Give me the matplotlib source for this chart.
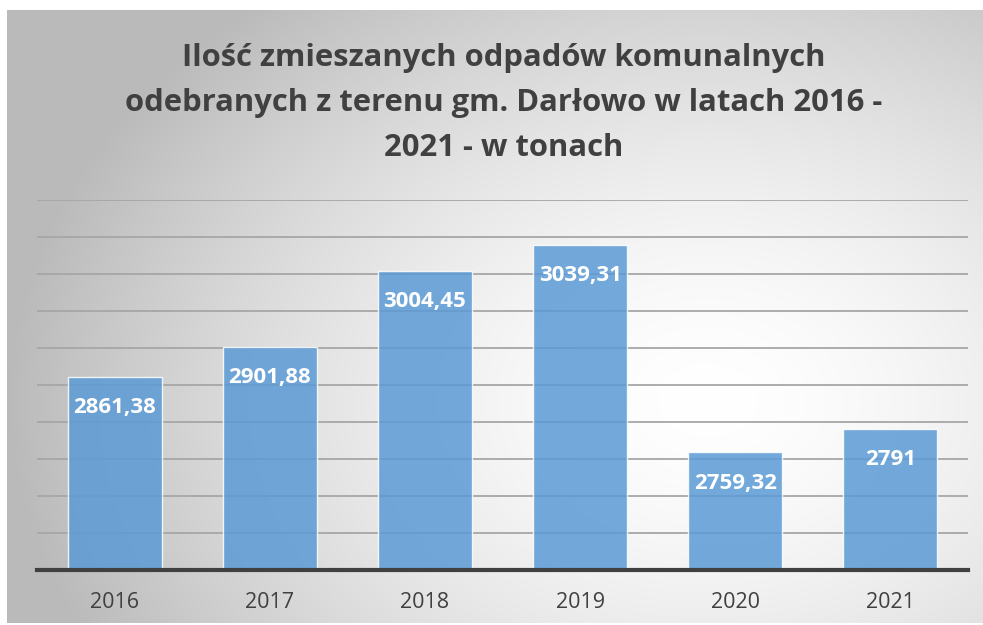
import numpy as np
import matplotlib.pyplot as plt

years = ["2016", "2017", "2018", "2019", "2020", "2021"]
values = [2861.38, 2901.88, 3004.45, 3039.31, 2759.32, 2791]
labels = ["2861,38", "2901,88", "3004,45", "3039,31", "2759,32", "2791"]

title = "Ilość zmieszanych odpadów komunalnych\nodebranych z terenu gm. Darłowo w latach 2016 -\n2021 - w tonach"

W, H = 983, 625
fig = plt.figure(figsize=(W / 100, H / 100), dpi=100, facecolor="white")
plt.rcParams["font.family"] = ["Open Sans", "DejaVu Sans"]

# chart area with radial gradient background
bg = fig.add_axes([7 / W, 1 - 623 / H, 976 / W, 613 / H], zorder=0)
yy, xx = np.mgrid[0:613, 0:976]
d = np.sqrt(((xx - 700) / 700) ** 2 + ((yy - 390) / 520) ** 2)
shade = 1 - 0.27 * np.clip(d, 0, 1) ** 1.6
bg.imshow(np.dstack([shade] * 3), aspect="auto", extent=[0, 1, 0, 1])
bg.axis("off")

# plot area
ax = fig.add_axes([37 / W, 1 - 570 / H, 931 / W, 370 / H], zorder=1)
ax.patch.set_alpha(0)
x = np.arange(len(years))
bars = ax.bar(x, values, width=0.606, color="#5b9bd5", alpha=0.85,
              edgecolor="white", linewidth=1, zorder=2)
ax.set_xlim(-0.5, len(years) - 0.5)
ax.set_ylim(2600, 3100)
ax.set_yticks(np.arange(2600, 3101, 50))
ax.yaxis.grid(True, color="#a6a6a6", linewidth=1.3, zorder=1)
ax.set_axisbelow(True)
ax.tick_params(axis="y", left=False, labelleft=False)
ax.tick_params(axis="x", length=0, pad=16, labelsize=15.5, labelcolor="#404040")
ax.set_xticks(x)
ax.set_xticklabels(years)
for s in ["top", "right", "left"]:
    ax.spines[s].set_visible(False)
ax.spines["bottom"].set_color("#404040")
ax.spines["bottom"].set_linewidth(3)
ax.spines["bottom"].set_zorder(3)

for b, lab in zip(bars, labels):
    ax.annotate(lab, (b.get_x() + b.get_width() / 2, b.get_height()),
                xytext=(0, -31), textcoords="offset pixels",
                ha="center", va="center", color="white", fontsize=16,
                fontweight="bold", zorder=4)

fig.text(504 / W, 1 - 103 / H, title, ha="center", va="center",
         fontsize=22.3, fontweight="bold", color="#404040", linespacing=1.64)

fig.savefig("out.png", dpi=100, facecolor="white")
